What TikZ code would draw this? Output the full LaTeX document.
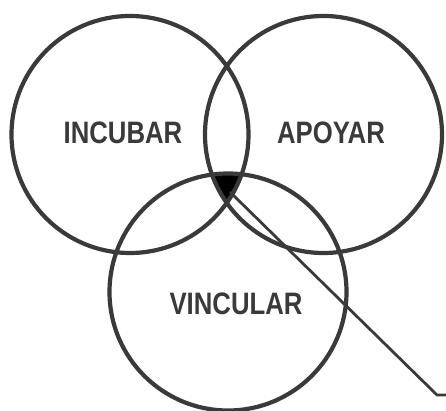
\documentclass[tikz,border=0pt]{standalone}
\usepackage{fontspec}
\setmainfont{Liberation Sans}
\newfontfamily\labelfont[FakeStretch=0.83]{Liberation Sans}
\usetikzlibrary{positioning}
\definecolor{ink}{HTML}{3A3A3A}

\begin{document}
\begin{tikzpicture}[x=1pt, y=-1pt,
  ring/.style={circle, draw=ink, line width=4.2pt, minimum size=237pt, inner sep=0pt},
  lbl/.style={text=ink, font=\labelfont\bfseries\fontsize{31}{31}\selectfont},
  lead/.style={draw=ink, line width=2.8pt}]
  \useasboundingbox (0,0) rectangle (446,411);
  \coordinate (ci) at (130,134.5);
  \coordinate (ca) at (323.5,134.5);
  \coordinate (cv) at (228,292);
  % common part of the three sets
  \begin{scope}
    \clip (ci) circle (118.5pt);
    \clip (ca) circle (118.5pt);
    \fill[black] (cv) circle (118.5pt);
  \end{scope}
  \node[ring] (inc) at (ci) {};
  \node[ring] (apo) at (ca) {};
  \node[ring] (vin) at (cv) {};
  \node[lbl] (tinc) at (123,133) {INCUBAR};
  \node[lbl] (tapo) at (331,133) {APOYAR};
  \node[lbl] (tvin) at (236,304) {VINCULAR};
  \coordinate (core) at (230,192);
  \coordinate (bend) at (437,395);
  \coordinate (tip) at (446,395);
  \draw[lead] (core) -- (bend) -- (tip);
\end{tikzpicture}
\end{document}
